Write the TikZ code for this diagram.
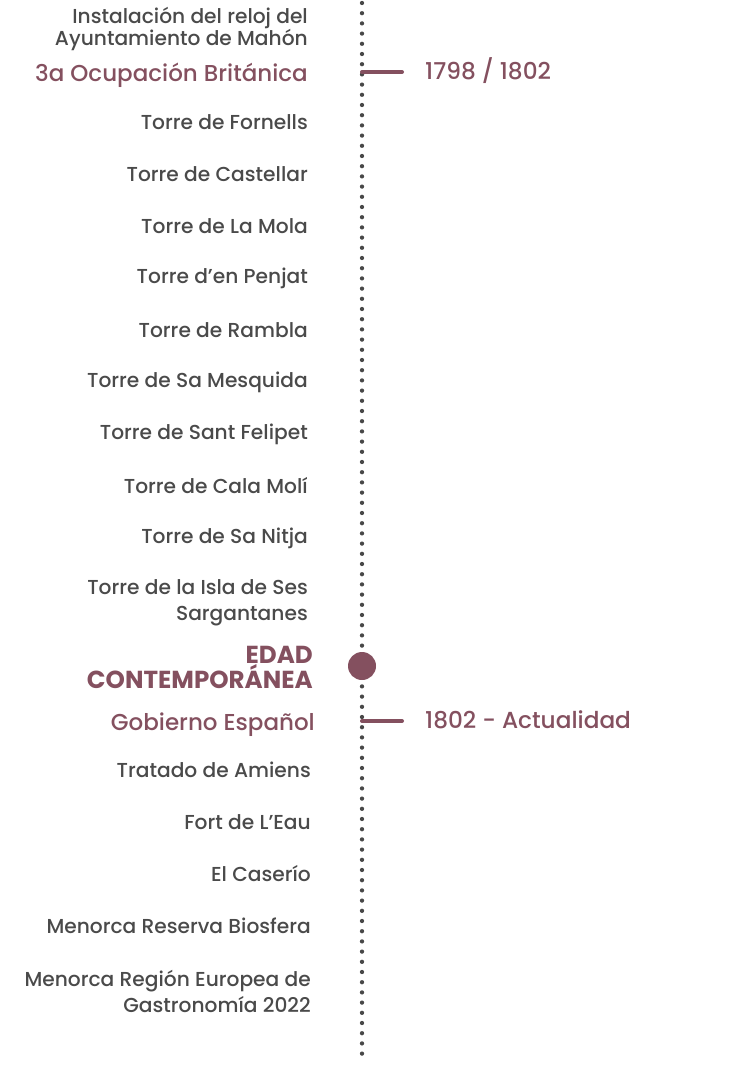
\documentclass[tikz,border=0pt]{standalone}
\usepackage{fontspec}
\setmainfont{Poppins}[UprightFont={* Medium},BoldFont={* Bold}]
\definecolor{maroon}{HTML}{84505F}
\definecolor{txt}{HTML}{4A4A4A}
\definecolor{dotc}{HTML}{484848}
\begin{document}
\begin{tikzpicture}[x=1pt,y=-1pt,
  item/.style={anchor=east,text=txt,font=\fontsize{20.2}{22}\selectfont,align=right,inner sep=0pt},
  itemwide/.style={item,font=\fontsize{20.2}{26}\selectfont},
  period/.style={anchor=east,text=maroon,font=\fontsize{23}{22}\selectfont,align=right,inner sep=0pt},
  era/.style={anchor=east,text=maroon,font=\bfseries\fontsize{24.6}{23}\selectfont,align=right,inner sep=0pt},
  datelbl/.style={anchor=west,text=maroon,font=\fontsize{23.2}{22}\selectfont,inner sep=0pt},
  tick/.style={draw=maroon,line width=4pt,line cap=round},
  axis/.style={draw=dotc,line width=4.3pt,line cap=round,dash pattern=on 0pt off 10.2pt}]
\useasboundingbox (0,0) rectangle (750,1065);
\coordinate (top) at (362,3);
\coordinate (bot) at (362,1063);
\draw[axis] (top) -- (bot);
% ticks
\coordinate (t1a) at (362,72);
\coordinate (t1b) at (402,72);
\coordinate (t2a) at (362,721);
\coordinate (t2b) at (402,721);
\draw[tick] (t1a) -- (t1b);
\draw[tick] (t2a) -- (t2b);
\node[datelbl] (d1) at (425,71) {1798 / 1802};
\node[datelbl] (d2) at (425,720) {1802 - Actualidad};
\node[circle,fill=maroon,minimum size=28pt,inner sep=0pt] (era) at (362,666) {};
% labels
\node[item] (n0) at (308,29) {Instalación del reloj del\\Ayuntamiento de Mahón};
\node[period] (p1) at (308,75) {3a Ocupación Británica};
\node[item] (n1) at (308,122) {Torre de Fornells};
\node[item] (n2) at (308,174) {Torre de Castellar};
\node[item] (n3) at (308,226) {Torre de La Mola};
\node[item] (n4) at (308,278) {Torre d’en Penjat};
\node[item] (n5) at (308,330) {Torre de Rambla};
\node[item] (n6) at (308,382) {Torre de Sa Mesquida};
\node[item] (n7) at (308,434) {Torre de Sant Felipet};
\node[item] (n8) at (308,486) {Torre de Cala Molí};
\node[item] (n9) at (308,538) {Torre de Sa Nitja};
\node[itemwide] (n10) at (308,603) {Torre de la Isla de Ses\\Sargantanes};
\node[era] (e1) at (313,667) {EDAD\\CONTEMPORÁNEA};
\node[period] (p2) at (315,725) {Gobierno Español};
\node[item] (m1) at (311,770) {Tratado de Amiens};
\node[item] (m2) at (311,822) {Fort de L’Eau};
\node[item] (m3) at (311,874) {El Caserío};
\node[item] (m4) at (311,926) {Menorca Reserva Biosfera};
\node[itemwide] (m5) at (311,991) {Menorca Región Europea de\\Gastronomía 2022};
\end{tikzpicture}
\end{document}
